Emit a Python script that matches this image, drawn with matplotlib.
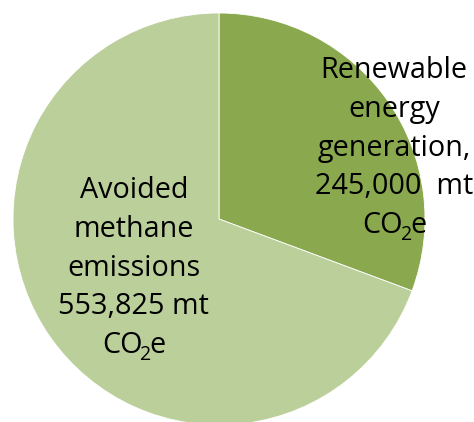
import matplotlib
matplotlib.use("Agg")
import matplotlib.pyplot as plt
from matplotlib.transforms import offset_copy

# slice data
categories = ["Renewable energy generation", "Avoided methane emissions"]
values = [245000, 553825]
colors = ["#8aa94f", "#bbcf9a"]
label_lines = [
    ["Renewable", "energy", "generation,", "245,000  mt"],
    ["Avoided", "methane", "emissions", "553,825 mt"],
]
# (x centre, first baseline) in data units of the pie axes
label_pos = [(0.85, 0.684), (-0.413, 0.102)]

plt.rcParams["font.family"] = ["Open Sans", "DejaVu Sans"]
FS = 20.7
LINE_PX = 38.8

fig = plt.figure(figsize=(4.74, 4.22), dpi=100)
W, H = 474, 422
cx, cy, r = 219, 219, 206
ax = fig.add_axes([(cx - r) / W, (H - cy - r) / H, 2 * r / W, 2 * r / H])

ax.pie(values, colors=colors, startangle=90, counterclock=False,
       wedgeprops=dict(edgecolor="white", linewidth=0.6))
ax.set_xlim(-1, 1)
ax.set_ylim(-1, 1)
ax.set_aspect("equal")
ax.axis("off")

renderer = fig.canvas.get_renderer()


def put(s, x, y, dx, dy, fs, ha="center"):
    tr = offset_copy(ax.transData, fig=fig, x=dx, y=dy, units="dots")
    return ax.text(x, y, s, transform=tr, ha=ha, va="baseline",
                   fontsize=fs, color="black", clip_on=False)


def width(s, fs):
    t = ax.text(0, 0, s, fontsize=fs)
    w = t.get_window_extent(renderer).width
    t.remove()
    return w


for lines, (x, y) in zip(label_lines, label_pos):
    for i, s in enumerate(lines):
        put(s, x, y, 0, -i * LINE_PX, FS)
    # last line: CO2e with a lowered subscript
    dy = -len(lines) * LINE_PX
    sub_fs = FS * 0.68
    w_co, w_2, w_e = width("CO", FS), width("2", sub_fs), width("e", FS)
    left = -(w_co + w_2 + w_e - 4) / 2
    put("CO", x, y, left, dy, FS, ha="left")
    put("2", x, y, left + w_co - 2, dy - 7, sub_fs, ha="left")
    put("e", x, y, left + w_co + w_2 - 4, dy, FS, ha="left")

fig.savefig("out.png", dpi=100)
